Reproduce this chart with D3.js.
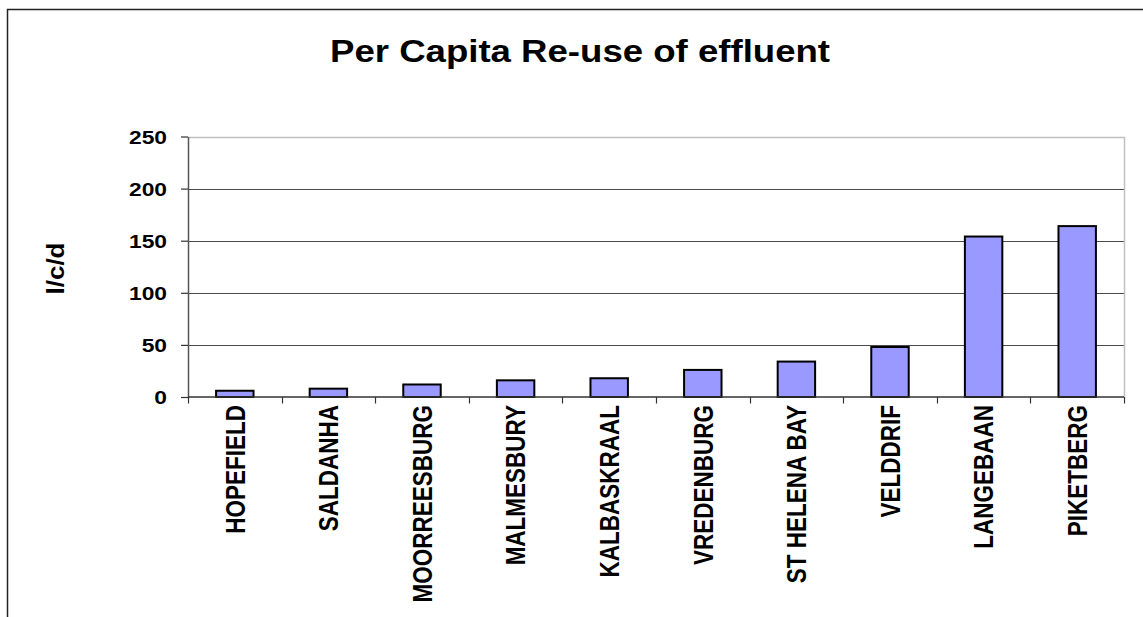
<!DOCTYPE html>
<html>
<head>
<meta charset="utf-8">
<script src="https://cdn.jsdelivr.net/npm/d3@7"></script>
<style>
  html, body { margin: 0; padding: 0; background: #fff; }
  svg { display: block; }
  text { font-family: "Liberation Sans", Arial, sans-serif; font-weight: bold; fill: #000; }
</style>
</head>
<body>
<svg id="chart" width="1143" height="617"></svg>
<script>
const categories = ["HOPEFIELD", "SALDANHA", "MOORREESBURG", "MALMESBURY", "KALBASKRAAL",
                    "VREDENBURG", "ST HELENA BAY", "VELDDRIF", "LANGEBAAN", "PIKETBERG"];
const values = [6, 8, 12, 16, 18, 26, 34, 48, 154, 164];
const yTicks = [0, 50, 100, 150, 200, 250];
const titleText = "Per Capita Re-use of effluent";
const yTitle = "l/c/d";

const svg = d3.select("#chart");
const W = 1143, H = 617;
const plot = { left: 188, right: 1124, top: 136.5, bottom: 397 };
const SX = 1.2; // horizontal stretch of the original rendering

svg.append("rect").attr("width", W).attr("height", H).attr("fill", "#fff");

// outer chart border (extends past right/bottom edges)
svg.append("rect")
  .attr("x", 7.5).attr("y", 9.5).attr("width", 1200).attr("height", 700)
  .attr("fill", "none").attr("stroke", "#222").attr("stroke-width", 1.5);

const x = d3.scaleBand().domain(categories)
  .range([plot.left, plot.right]).paddingInner(0.6).paddingOuter(0.3);
const y = d3.scaleLinear().domain([0, 250]).range([plot.bottom, plot.top]);

// gridlines
svg.append("g").selectAll("line").data(yTicks.filter(t => t > 0 && t < 250)).join("line")
  .attr("x1", plot.left).attr("x2", plot.right)
  .attr("y1", d => Math.round(y(d)) + 0.5).attr("y2", d => Math.round(y(d)) + 0.5)
  .attr("stroke", "#4a4a4a").attr("stroke-width", 1);

// plot area border top & right (light gray)
svg.append("path")
  .attr("d", `M${plot.left},${Math.round(y(250)) + 0.5}H${plot.right + 0.5}V${plot.bottom}`)
  .attr("fill", "none").attr("stroke", "#c0c0c0").attr("stroke-width", 1.5);

// bars
svg.append("g").selectAll("rect").data(values).join("rect")
  .attr("x", (d, i) => x(categories[i]))
  .attr("y", d => y(d))
  .attr("width", x.bandwidth())
  .attr("height", d => y(0) - y(d))
  .attr("fill", "#9999FF")
  .attr("stroke", "#000").attr("stroke-width", 2);

// y axis
const yAxis = svg.append("g").attr("transform", `translate(${plot.left},0)`)
  .call(d3.axisLeft(y).tickValues(yTicks).tickSize(7).tickSizeOuter(0));
yAxis.select(".domain").attr("stroke", "#555").attr("stroke-width", 1.5);
yAxis.selectAll(".tick line").attr("stroke", "#333").attr("stroke-width", 1.2);
yAxis.selectAll(".tick text")
  .attr("x", null).attr("dy", "0.36em")
  .attr("text-anchor", "end")
  .attr("transform", `translate(-21,0) scale(${SX},1)`)
  .style("font-family", '"Liberation Sans", Arial, sans-serif')
  .style("font-weight", "bold").style("font-size", "19px").attr("fill", "#000");

// x axis line and ticks at category boundaries
const step = x.step();
const boundaries = d3.range(categories.length + 1).map(i => plot.left + i * step);
svg.append("line")
  .attr("x1", plot.left).attr("x2", plot.right)
  .attr("y1", plot.bottom).attr("y2", plot.bottom)
  .attr("stroke", "#333").attr("stroke-width", 1.5);
svg.append("g").selectAll("line").data(boundaries).join("line")
  .attr("x1", d => Math.round(d) + 0.5).attr("x2", d => Math.round(d) + 0.5)
  .attr("y1", plot.bottom).attr("y2", plot.bottom + 6.5)
  .attr("stroke", "#333").attr("stroke-width", 1.2);

// category labels (rotated)
svg.append("g").selectAll("text").data(categories).join("text")
  .attr("transform", d => `translate(${x(d) + x.bandwidth() / 2},405) scale(${SX},1) rotate(-90)`)
  .attr("text-anchor", "end")
  .attr("dy", "0.36em")
  .style("font-size", "22.5px")
  .text(d => d);

// title
svg.append("text")
  .attr("transform", `translate(580,62) scale(${SX},1)`)
  .attr("text-anchor", "middle")
  .style("font-size", "30.5px")
  .text(titleText);

// y axis title
svg.append("text")
  .attr("transform", `translate(55.5,268.5) rotate(-90)`)
  .attr("text-anchor", "middle")
  .attr("dy", "0.36em")
  .attr("textLength", 52)
  .attr("lengthAdjust", "spacingAndGlyphs")
  .style("font-size", "23px")
  .text(yTitle);
</script>
</body>
</html>
